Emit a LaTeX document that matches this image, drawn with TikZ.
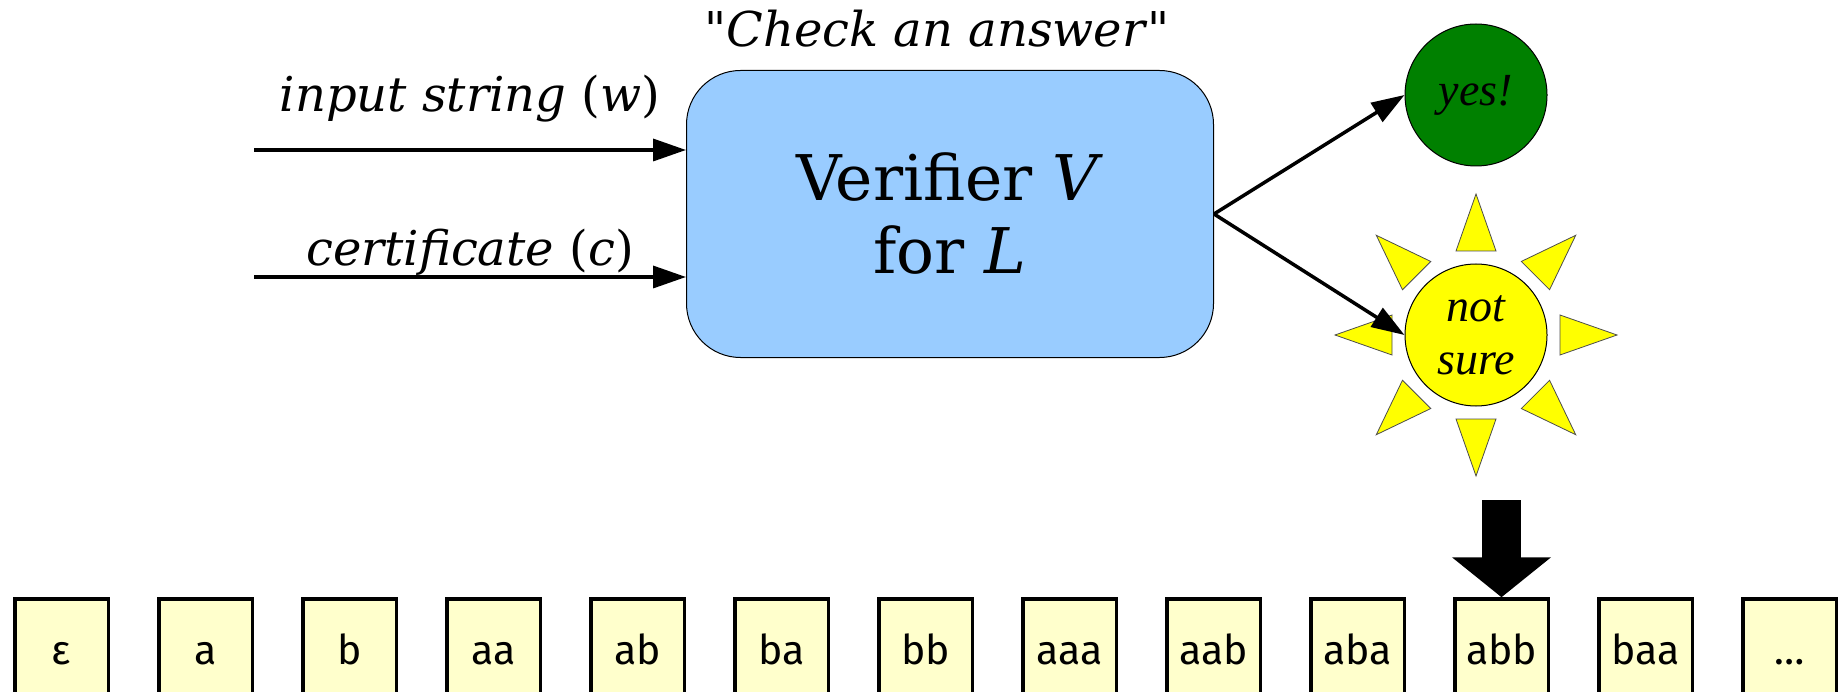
\documentclass[tikz,border=0pt]{standalone}
\usepackage{fontspec}
\usepackage{tikz}
\usetikzlibrary{arrows.meta, positioning, shapes.geometric}
\setmainfont{DejaVu Serif}
\newfontfamily\timesfont{Liberation Serif}
\newfontfamily\boxfont{Fira Sans}
\definecolor{verblue}{RGB}{153, 204, 255}
\definecolor{yesgreen}{RGB}{0, 128, 0}
\definecolor{sunyellow}{RGB}{255, 255, 0}
\definecolor{strfill}{RGB}{255, 255, 204}

\begin{document}
\begin{tikzpicture}[
  x = 1pt, y = -1pt,
  node distance = 47pt,
  verifier/.style = {rectangle, rounded corners=54pt, draw=black, line width=1pt,
                     fill=verblue, minimum width=527pt, minimum height=287pt,
                     align=center, font=\fontsize{63}{73}\selectfont},
  answer/.style   = {circle, draw=black, line width=1pt, minimum size=142pt,
                     inner sep=0pt, align=center,
                     font=\timesfont\itshape\fontsize{46}{53}\selectfont},
  ray/.style      = {draw=black!70, line width=0.8pt, fill=sunyellow},
  strbox/.style   = {rectangle, draw=black, line width=3.5pt, fill=strfill,
                     minimum width=93.5pt, minimum height=102pt, inner sep=0pt,
                     text height=28pt, text depth=0pt,
                     font=\boxfont\fontsize{41}{48}\selectfont},
  lbl/.style      = {anchor=base, inner sep=0pt, font=\fontsize{48}{56}\selectfont},
  arr/.style      = {-{Triangle[length=33pt, width=22pt]}, line width=3.5pt},
  bigarr/.style   = {-{Triangle[length=40pt, width=97pt]}, line width=39pt},
]
  \useasboundingbox (0,0) rectangle (1843,692);

  % Verifier
  \node[verifier] (ver) at (950,214) {Verifier \textit{V}\\for \textit{L}};
  \node[lbl] (check) at (937,47) {\textquotedbl\textit{Check an answer}\textquotedbl};

  % Inputs
  \coordinate (win) at (254,150);
  \coordinate (cin) at (254,277);
  \draw[arr] (win) -- node[lbl, yshift=38pt] (wlbl) {\textit{input string} (\textit{w})} (win -| ver.west);
  \draw[arr] (cin) -- node[lbl, yshift=11pt] (clbl) {\textit{certificate} (\textit{c})} (cin -| ver.west);

  % Answers
  \node[answer, fill=yesgreen] (yes) at (1476,95) {yes!};
  \node[answer, fill=sunyellow] (sun) at (1476,335) {not\\sure};
  \foreach \a in {0,45,...,315}
    \draw[ray, shift={(sun.center)}, rotate=\a] (84,-20) -- (141,0) -- (84,20) -- cycle;
  \draw[arr] (ver.east) -- (yes.west);
  \draw[arr] (ver.east) -- (sun.west);

  % Strings
  \node[strbox] (s0) at (61.5,650) {ε};
  \node[strbox, right=of s0] (s1) {a};
  \node[strbox, right=of s1] (s2) {b};
  \node[strbox, right=of s2] (s3) {aa};
  \node[strbox, right=of s3] (s4) {ab};
  \node[strbox, right=of s4] (s5) {ba};
  \node[strbox, right=of s5] (s6) {bb};
  \node[strbox, right=of s6] (s7) {aaa};
  \node[strbox, right=of s7] (s8) {aab};
  \node[strbox, right=of s8] (s9) {aba};
  \node[strbox, right=of s9] (s10) {abb};
  \node[strbox, right=of s10] (s11) {baa};
  \node[strbox, right=of s11] (s12) {…};

  % Pointer
  \coordinate (ptr) at ([yshift=97pt]s10.north);
  \draw[bigarr] (ptr) -- (s10.north);
\end{tikzpicture}
\end{document}
